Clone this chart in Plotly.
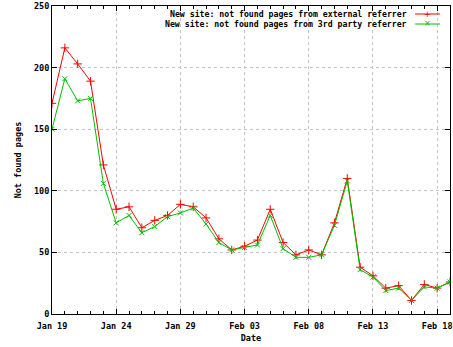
import plotly.graph_objects as go
import pandas as pd

dates = pd.date_range("2010-01-19", "2010-02-19", freq="D").strftime("%Y-%m-%d").tolist()

external_referrer = [171, 216, 203, 189, 121, 85, 87, 70, 76, 80,
                     89, 87, 78,
                     61, 52, 55, 60, 85, 58, 48,
                     52, 48, 74, 110, 38, 31, 21, 23, 11, 24, 21, 26]
third_party_referrer = [150, 191, 173, 175, 106, 74, 80, 66, 71, 79,
                        82, 86, 73,
                        58, 52, 54, 56, 80, 53, 46,
                        46, 48, 72, 108, 36, 30, 19, 21, 11, 22, 21, 26]

series_names = ["New site: not found pages from external referrer",
                "New site: not found pages from 3rd party referrer"]
y_ticks = [0, 50, 100, 150, 200, 250]

RED = "#ff0000"
GREEN = "#00c000"
FONT = "DejaVu Sans Mono"

fig = go.Figure()
fig.add_trace(go.Scatter(
    x=dates, y=external_referrer, mode="lines+markers", name=series_names[0],
    line=dict(color=RED, width=1),
    marker=dict(symbol="cross-thin", size=6, line=dict(color=RED, width=1)),
    showlegend=False))
fig.add_trace(go.Scatter(
    x=dates, y=third_party_referrer, mode="lines+markers", name=series_names[1],
    line=dict(color=GREEN, width=1),
    marker=dict(symbol="x-thin", size=5, line=dict(color=GREEN, width=1)),
    showlegend=False))

# gnuplot-style legend: text right-aligned, sample to its right
legend_colors = [RED, GREEN]
for i, (name, col) in enumerate(zip(series_names, legend_colors)):
    yp = 1 - (8 + 10 * i) / 308
    fig.add_annotation(xref="paper", yref="paper", x=(411 - 52) / 400, y=yp,
                       text=name, showarrow=False, xanchor="right", yanchor="middle",
                       font=dict(family=FONT, size=8.2, color="black", weight="bold"))
    fig.add_shape(type="line", xref="paper", yref="paper",
                  x0=(417 - 52) / 400, x1=(442 - 52) / 400, y0=yp, y1=yp,
                  line=dict(color=col, width=1))
    fig.add_annotation(xref="paper", yref="paper", x=(429.5 - 52) / 400, y=yp,
                       text="+" if i == 0 else "×", showarrow=False,
                       xanchor="center", yanchor="middle",
                       font=dict(family="DejaVu Sans", size=8, color=col))

axis_common = dict(
    showline=True, linecolor="black", linewidth=1, mirror="ticks",
    ticks="inside", tickcolor="black", ticklen=5,
    showgrid=True, gridcolor="#c4c4c4", griddash="dot", gridwidth=1,
    zeroline=False,
    tickfont=dict(family=FONT, size=8.5, color="black", weight="bold"),
)

fig.update_xaxes(
    **axis_common,
    type="date",
    range=["2010-01-19", "2010-02-19"],
    tick0="2010-01-19", dtick=5 * 86400000,
    tickformat="%b %d",
    ticklabelstandoff=4,
    ticklabeloverflow="allow",
    minor=dict(dtick=86400000, tick0="2010-01-19", ticks="inside", ticklen=3,
               tickcolor="black", showgrid=False),
    title=dict(text="Date", font=dict(family=FONT, size=8.5, color="black", weight="bold"),
               standoff=4),
)
fig.update_yaxes(
    **axis_common,
    range=[0, 250],
    tickvals=y_ticks,
    title=dict(text="Not found pages", font=dict(family=FONT, size=8.5, color="black", weight="bold"),
               standoff=10),
)

fig.update_layout(
    width=453, height=347,
    margin=dict(l=52, r=1, t=6, b=33),
    plot_bgcolor="white", paper_bgcolor="white",
)

fig.write_html("out.html",
               config={"displayModeBar": False},
               post_script="document.body.style.margin='0';document.body.style.overflow='hidden';")
